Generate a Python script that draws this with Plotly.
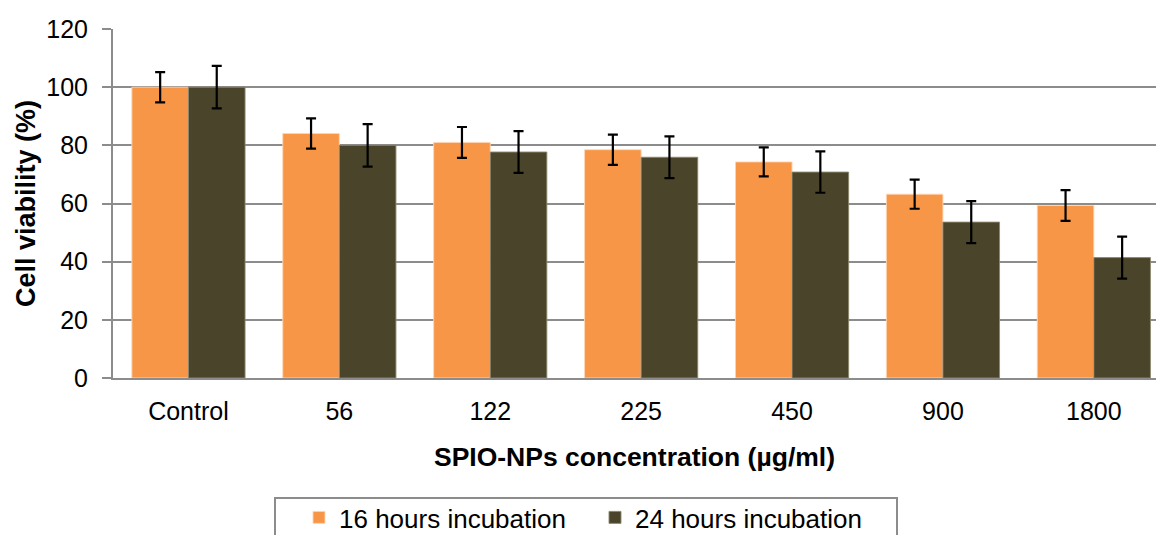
import plotly.graph_objects as go

# Cell viability after SPIO-NP exposure
concentrations = ["Control", "56", "122", "225", "450", "900", "1800"]
viability_16h = [100.0, 84.1, 81.0, 78.5, 74.3, 63.2, 59.3]
viability_24h = [100.0, 80.0, 77.7, 75.9, 70.8, 53.6, 41.4]
sd_16h = [5.2, 5.2, 5.3, 5.2, 5.0, 5.0, 5.3]
sd_24h = [7.3, 7.3, 7.2, 7.2, 7.1, 7.2, 7.2]
series_names = ["16 hours incubation", "24 hours incubation"]
y_ticks = [0, 20, 40, 60, 80, 100, 120]

ORANGE = "#F79646"
OLIVE = "#4A452A"
GRID = "#8C8C8C"
FONT = "Liberation Sans, Arial, sans-serif"

fig = go.Figure()
for name, vals, errs, color, edge in [
    (series_names[0], viability_16h, sd_16h, ORANGE, "rgba(255,214,180,0.9)"),
    (series_names[1], viability_24h, sd_24h, OLIVE, "rgba(140,135,110,0.9)"),
]:
    fig.add_trace(go.Bar(
        name=name,
        x=concentrations,
        y=vals,
        marker=dict(color=color, line=dict(color=edge, width=1)),
        error_y=dict(type="data", array=errs, symmetric=True,
                     color="black", thickness=2.2, width=5),
    ))

W, H = 1156, 535
L, R, T, B = 113, 0, 29, 157
plot_w = W - L - R
plot_h = H - T - B
CAT_PX = 150.9  # width of one category slot

def px_x(px):
    return (px - L) / plot_w

def px_y(py):
    return (H - B - py) / plot_h

# legend frame
fig.add_shape(type="rect", xref="paper", yref="paper",
              x0=px_x(275), x1=px_x(897), y0=px_y(560), y1=px_y(498),
              line=dict(color=GRID, width=2), fillcolor="white", layer="below")

fig.update_layout(
    width=W, height=H,
    margin=dict(l=L, r=R, t=T, b=B, autoexpand=False),
    paper_bgcolor="white", plot_bgcolor="white",
    barmode="group", bargap=0.25, bargroupgap=0,
    font=dict(family=FONT, size=25, color="black"),
    showlegend=True,
    legend=dict(orientation="h", x=px_x(299), y=px_y(494),
                xanchor="left", yanchor="top",
                font=dict(family=FONT, size=26, color="black"),
                bgcolor="rgba(0,0,0,0)", borderwidth=0,
                itemwidth=30, entrywidth=251, traceorder="normal"),
    xaxis=dict(
        range=[-0.5, -0.5 + plot_w / CAT_PX],
        showgrid=False, showline=True, linecolor=GRID, linewidth=2,
        ticks="", ticklabelstandoff=10,
        tickfont=dict(family=FONT, size=25, color="black"),
        title=dict(text="<b>SPIO-NPs concentration (µg/ml)</b>", standoff=23,
                   font=dict(family=FONT, size=26.5, color="black")),
    ),
    yaxis=dict(
        range=[0, 120], tickvals=y_ticks,
        showgrid=True, gridcolor=GRID, gridwidth=2,
        showline=True, linecolor=GRID, linewidth=2,
        ticks="outside", ticklen=9, tickcolor=GRID, tickwidth=2,
        ticklabelstandoff=9,
        zeroline=False,
        tickfont=dict(family=FONT, size=25, color="black"),
        title=dict(text="<b>Cell viability (%)</b>", standoff=3,
                   font=dict(family=FONT, size=27, color="black")),
    ),
)

fig.write_html("out.html")
